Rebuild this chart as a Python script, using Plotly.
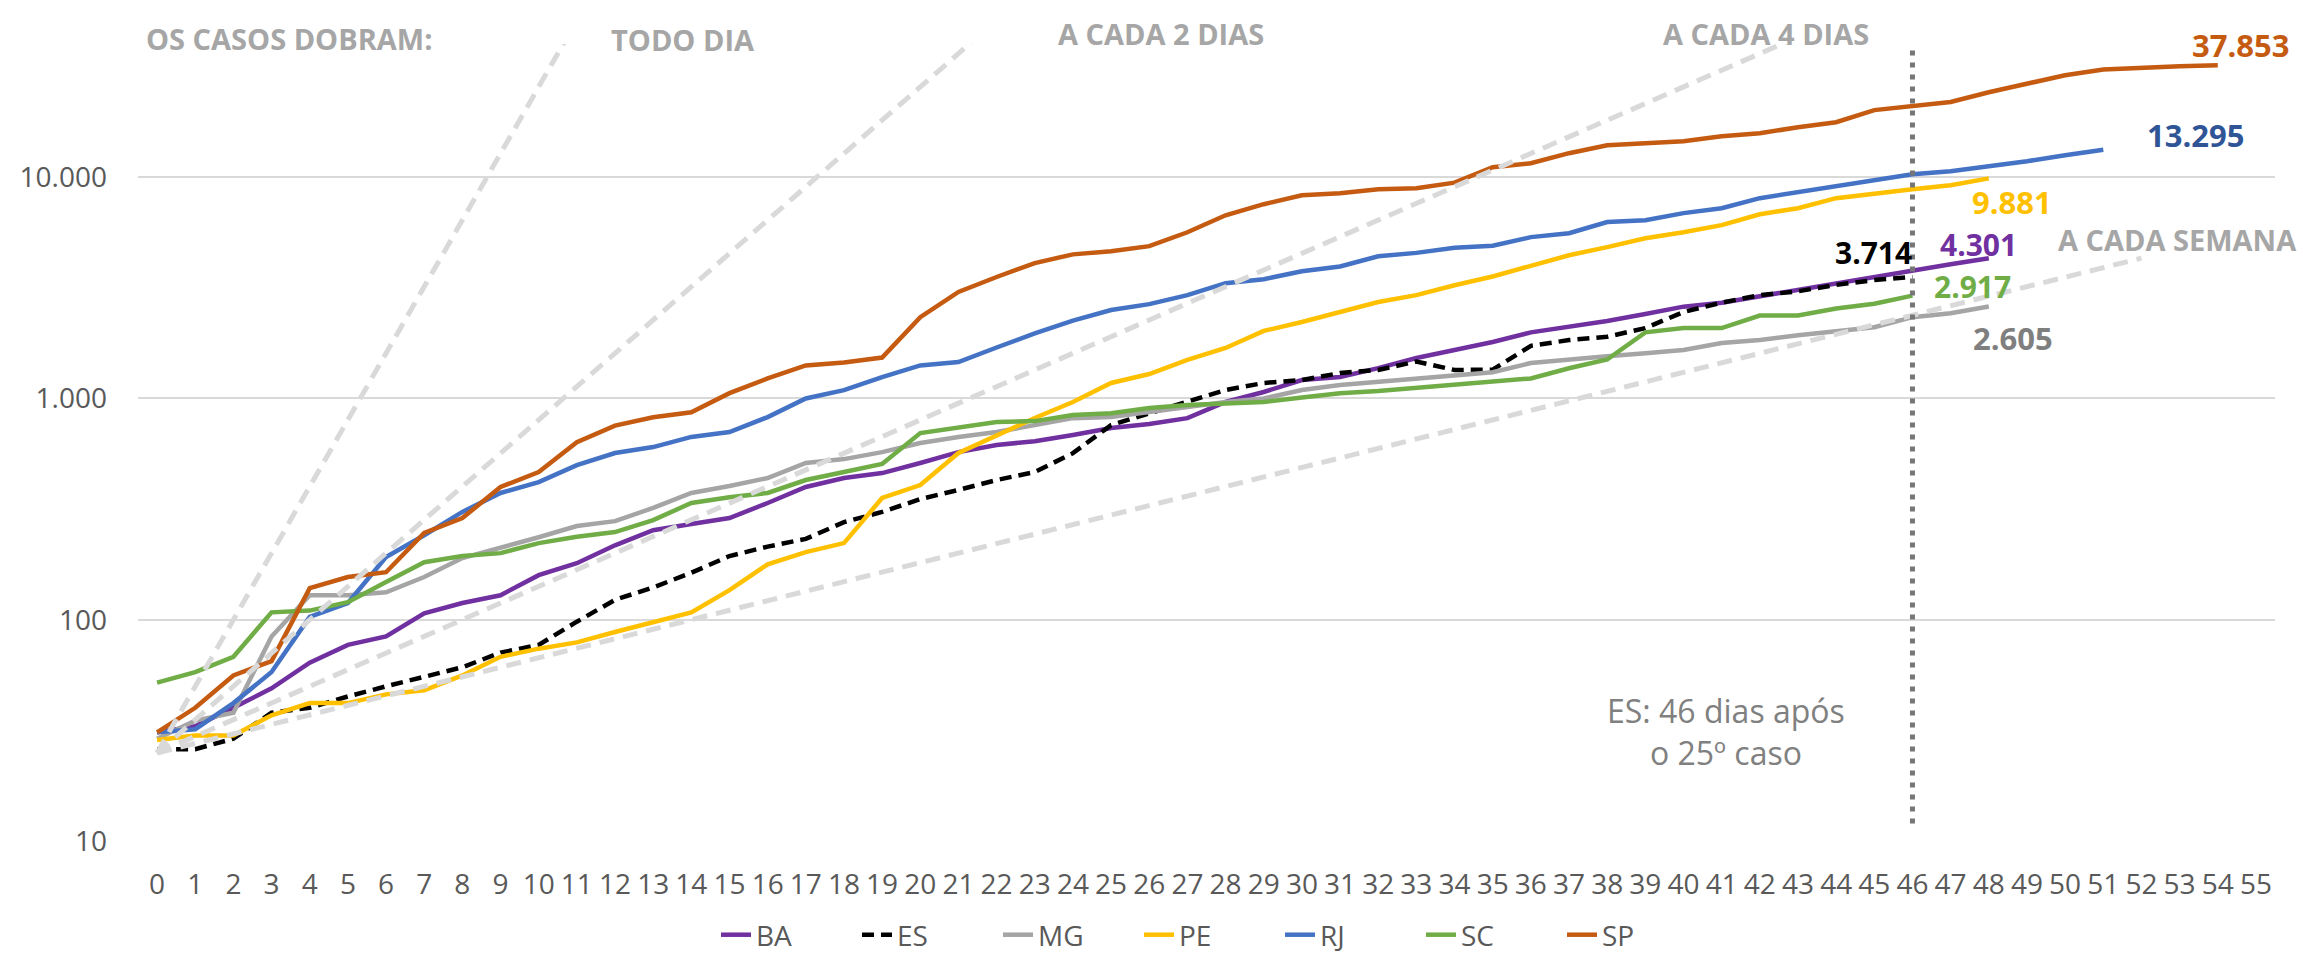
import plotly.graph_objects as go

# ---------------- data ----------------
days = list(range(56))
tick_labels = [str(d) for d in days]

BA = [31, 33, 40, 49, 64, 77, 84, 107, 119, 129, 159, 180, 217, 254, 271, 288, 337, 398, 437, 460,
      511, 572, 616, 641, 684, 735, 766, 815, 964, 1070, 1211, 1250, 1372, 1523, 1655, 1800, 1990,
      2100, 2240, 2410, 2600, 2710, 2900, 3090, 3320, 3540, 3790, 4040, 4301]
ES = [26, 26, 29, 38, 40, 45, 50, 55, 61, 71, 77, 98, 123, 140, 163, 194, 214, 232, 276, 307,
      351, 386, 428, 465, 566, 758, 858, 964, 1092, 1175, 1211, 1303, 1345, 1470, 1345, 1350,
      1730, 1836, 1900, 2080, 2460, 2710, 2930, 3050, 3260, 3430, 3540]
MG = [29, 35, 38, 84, 129, 129, 133, 156, 190, 211, 236, 265, 279, 320, 374, 402, 437, 511, 532,
      572, 629, 669, 705, 758, 815, 825, 871, 915, 964, 1000, 1092, 1150, 1190, 1232, 1262, 1314,
      1446, 1502, 1550, 1600, 1655, 1780, 1836, 1930, 2020, 2100, 2330, 2430, 2605]
PE = [28.6, 30, 30, 37, 42, 42, 46, 48, 56, 68, 74, 79, 88, 97, 108, 136, 178, 202, 222, 355, 406,
      567, 684, 816, 964, 1175, 1290, 1493, 1692, 2020, 2215, 2460, 2730, 2930, 3250, 3560, 3990,
      4440, 4830, 5300, 5640, 6070, 6800, 7240, 8040, 8470, 8830, 9200, 9881]
RJ = [31, 32, 42, 58, 103, 119, 192, 241, 307, 374, 419, 500, 567, 603, 670, 705, 824, 1000, 1090,
      1250, 1410, 1460, 1700, 1970, 2250, 2510, 2670, 2930, 3320, 3460, 3760, 3950, 4390, 4550,
      4800, 4900, 5360, 5580, 6270, 6390, 6880, 7240, 8040, 8560, 9010, 9600, 10300, 10650, 11210,
      11810, 12570, 13295]
SC = [52, 58, 68, 108, 110, 120, 148, 182, 194, 200, 222, 237, 249, 282, 337, 358, 374, 428, 465,
      506, 698, 743, 782, 790, 841, 858, 905, 934, 954, 964, 1010, 1057, 1080, 1115, 1158, 1200,
      1232, 1370, 1500, 1990, 2080, 2080, 2370, 2370, 2550, 2680, 2917]
SP = [31, 40, 56, 65, 139, 156, 164, 247, 288, 398, 465, 635, 754, 822, 866, 1057, 1232, 1410, 1455,
      1530, 2330, 3030, 3540, 4090, 4480, 4630, 4880, 5640, 6730, 7550, 8290, 8470, 8830, 8920, 9450,
      11100, 11560, 12840, 13950, 14260, 14550, 15320, 15800, 16820, 17720, 20100, 20960, 21860,
      24200, 26550, 28900, 30700, 31300, 31700, 32100]

series_names = ["BA", "ES", "MG", "PE", "RJ", "SC", "SP"]
series_values = [BA, ES, MG, PE, RJ, SC, SP]
series_colors = ["#7030A0", "#000000", "#A5A5A5", "#FFC000", "#4472C4", "#70AD47", "#C55A11"]

# doubling reference lines (start at 25 cases on day 0; straight on log scale)
guide_todo_dia_x, guide_todo_dia_y = [0, 11], [25, 51200]
guide_2dias_x, guide_2dias_y = [0, 22], [25, 51200]
guide_4dias_x, guide_4dias_y = [0, 44], [25, 51200]
guide_semana_x, guide_semana_y = [0, 52], [25, 4307]

es_marker_day = 46
es_marker_y = [12, 40000]

y_tickvals = [10, 100, 1000, 10000]
y_ticktext = ["10", "100", "1.000", "10.000"]

end_labels = ["37.853", "13.295", "9.881", "3.714", "4.301", "2.917", "2.605"]

# ---------------- layout geometry ----------------
W, H = 2303, 961
L, R, T, B = 138, 28, 44, 120
PW, PH = W - L - R, H - T - B
FONT = "Open Sans"


def px(xp, yp):
    return (xp - L) / PW, (H - B - yp) / PH


fig = go.Figure()

for name, vals, col in zip(series_names, series_values, series_colors):
    fig.add_trace(go.Scatter(
        x=days[:len(vals)], y=vals, mode="lines", name=name,
        line=dict(color=col, width=4.5, dash="12px,7px" if name == "ES" else "solid"),
        hoverinfo="x+y+name"))

for gx, gy in [(guide_todo_dia_x, guide_todo_dia_y), (guide_2dias_x, guide_2dias_y),
               (guide_4dias_x, guide_4dias_y), (guide_semana_x, guide_semana_y)]:
    fig.add_trace(go.Scatter(x=gx, y=gy, mode="lines", showlegend=False, hoverinfo="skip",
                             line=dict(color="#D9D9D9", width=5, dash="15px,9px")))

fig.add_trace(go.Scatter(x=[es_marker_day, es_marker_day], y=es_marker_y, mode="lines",
                         showlegend=False, hoverinfo="skip",
                         line=dict(color="#767676", width=5, dash="5px,7px")))

annotations = []


def ann(text, xp, yp, color, size, bold=True, align="center"):
    x, y = px(xp, yp)
    annotations.append(dict(
        text=f"<b>{text}</b>" if bold else text, x=x, y=y, xref="paper", yref="paper",
        showarrow=False, xanchor="center", yanchor="middle", align=align,
        font=dict(family=FONT, size=size, color=color)))


guide_color = "#A6A6A6"
ann("OS CASOS DOBRAM:", 289, 38, guide_color, 29)
ann("TODO DIA", 683, 40, guide_color, 29)
ann("A CADA 2 DIAS", 1161, 33, guide_color, 29)
ann("A CADA 4 DIAS", 1766, 33, guide_color, 29)
ann("A CADA SEMANA", 2177, 240, guide_color, 29)

ann(end_labels[0], 2240, 45, "#C55A11", 31)
ann(end_labels[1], 2195, 135, "#2F5597", 31)
ann(end_labels[2], 2012, 202, "#FFC000", 31)
ann(end_labels[3], 1873, 252, "#000000", 30)
ann(end_labels[4], 1978, 244, "#7030A0", 30)
ann(end_labels[5], 1972, 286, "#70AD47", 30)
ann(end_labels[6], 2013, 338, "#7F7F7F", 31)

ann("ES: 46 dias após<br>o 25º caso", 1726, 731, "#808080", 32, bold=False)

lx, ly = px(716, 960)

fig.update_layout(
    width=W, height=H,
    margin=dict(l=L, r=R, t=T, b=B, pad=0, autoexpand=False),
    paper_bgcolor="white", plot_bgcolor="white",
    font=dict(family=FONT, size=28, color="#595959"),
    showlegend=True,
    legend=dict(orientation="h", x=lx, y=ly, xanchor="left", yanchor="bottom",
                xref="paper", yref="paper", bgcolor="rgba(0,0,0,0)",
                font=dict(family=FONT, size=28, color="#595959"),
                entrywidth=96, entrywidthmode="pixels", traceorder="normal"),
    annotations=annotations,
    xaxis=dict(range=[-0.5, 55.5], tickmode="array", tickvals=days, ticktext=tick_labels,
               showgrid=False, zeroline=False, showline=False, ticks="",
               tickfont=dict(family=FONT, size=28, color="#595959"), ticklabelstandoff=24),
    yaxis=dict(type="log", range=[1, 4.602], tickmode="array", tickvals=y_tickvals,
               ticktext=y_ticktext, showgrid=True, gridcolor="#D9D9D9", gridwidth=2,
               zeroline=False, showline=False, ticks="",
               tickfont=dict(family=FONT, size=28, color="#595959"), ticklabelstandoff=30),
)

fig.write_html("out.html", config={"displayModeBar": False},
               post_script="document.body.style.margin='0';")
